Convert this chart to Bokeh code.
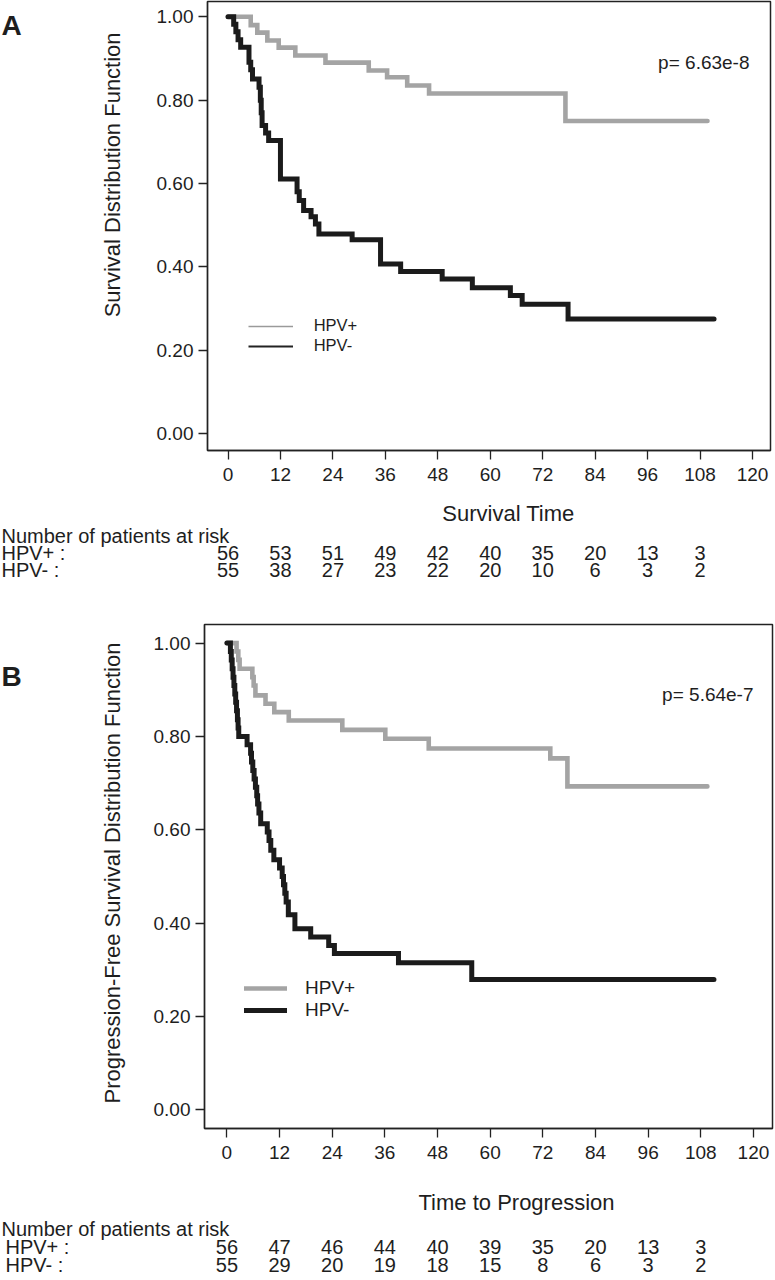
import math
from bokeh.plotting import figure
from bokeh.models import (Range1d, FixedTicker, NumeralTickFormatter, Label,
                          Legend, LegendItem)
from bokeh.layouts import column, row
from bokeh.core.properties import value
from bokeh.embed import file_html
from bokeh.resources import INLINE

FONT = "Liberation Sans"
GRAY = "#a4a4a4"
BLACK = "#1b1b1b"
TXT = "#1e1e1e"

# ---------------- data ----------------
x_ticks = [0, 12, 24, 36, 48, 60, 72, 84, 96, 108, 120]
y_ticks = [0.0, 0.2, 0.4, 0.6, 0.8, 1.0]
risk_times = [0, 12, 24, 36, 48, 60, 72, 84, 96, 108]

# Panel A: overall survival (event time, survival after it; last entry = end of follow-up)
os_pos_t = [0, 5.2, 6.7, 9.0, 11.6, 15.4, 22.3, 32.2, 36.4, 41.0, 46.0, 77.2, 109.7]
os_pos_s = [1.0, 0.980, 0.962, 0.943, 0.926, 0.907, 0.890, 0.871, 0.855, 0.835, 0.816, 0.750, 0.750]
os_neg_t = [0, 1.3, 1.8, 2.3, 2.9, 4.8, 5.2, 5.6, 7.1, 7.4, 7.6, 7.8, 8.6, 9.3, 12.0,
            15.8, 16.3, 17.3, 19.0, 20.0, 20.8, 28.4, 34.9, 39.5, 49.0, 55.9, 64.6, 67.3, 77.8, 111.2]
os_neg_s = [1.0, 0.982, 0.964, 0.945, 0.927, 0.891, 0.873, 0.851, 0.831, 0.800, 0.770, 0.739, 0.721, 0.703, 0.611,
            0.580, 0.559, 0.535, 0.520, 0.503, 0.479, 0.465, 0.407, 0.389, 0.371, 0.350, 0.331, 0.310, 0.275, 0.275]
os_risk_pos = [56, 53, 51, 49, 42, 40, 35, 20, 13, 3]
os_risk_neg = [55, 38, 27, 23, 22, 20, 10, 6, 3, 2]
os_p = "p= 6.63e-8"

# Panel B: progression-free survival
pfs_pos_t = [0, 2.2, 2.6, 2.9, 5.8, 6.1, 6.5, 8.8, 10.8, 14.1, 26.3, 36.1, 46.0, 73.7, 77.6, 109.5]
pfs_pos_s = [1.0, 0.982, 0.964, 0.945, 0.927, 0.909, 0.888, 0.870, 0.852, 0.834, 0.814, 0.795, 0.774, 0.753, 0.693, 0.693]
pfs_neg_t = [0, 0.8, 1.0, 1.2, 1.4, 1.6, 1.8, 2.0, 2.2, 2.4, 2.55, 2.7, 4.6, 5.4, 5.6, 5.9, 6.2, 6.5, 6.8, 7.0,
             7.3, 7.7, 9.2, 9.6, 10.0, 10.7, 12.0, 12.6, 12.9, 13.2, 13.5, 14.0, 15.5, 19.1, 23.2, 24.5, 39.1, 55.8, 111.0]
pfs_neg_s = [1.0, 0.982, 0.964, 0.945, 0.927, 0.909, 0.891, 0.873, 0.855, 0.836, 0.818, 0.800, 0.782, 0.764, 0.745,
             0.727, 0.709, 0.691, 0.673, 0.655, 0.636, 0.613, 0.595, 0.577, 0.556, 0.536, 0.518, 0.500, 0.482, 0.464,
             0.445, 0.418, 0.388, 0.370, 0.352, 0.335, 0.315, 0.279, 0.279]
pfs_risk_pos = [56, 47, 46, 44, 40, 39, 35, 20, 13, 3]
pfs_risk_neg = [55, 29, 20, 19, 18, 15, 8, 6, 3, 2]
pfs_p = "p= 5.64e-7"

# ---------------- layout ----------------
W = 775
LW = 150          # width of the left strip holding panel letter and y title
CURVE_W = 4.6


def plain(width, height, xr, yr):
    p = figure(width=width, height=height, output_backend="svg", toolbar_location=None,
               x_axis_type=None, y_axis_type=None, x_range=xr, y_range=yr,
               min_border_left=0, min_border_right=0, min_border_top=0, min_border_bottom=0)
    p.outline_line_color = None
    p.xgrid.visible = False
    p.ygrid.visible = False
    p.background_fill_color = "white"
    p.border_fill_color = "white"
    return p


def txt(p, xs, ys, texts, size, align="left", angle=0.0, bold=False, baseline="middle"):
    p.text(x=xs, y=ys, text=texts, text_font=value(FONT), text_font_size=value(f"{size}px"),
           text_align=align, text_baseline=baseline, angle=angle, text_color=TXT,
           text_font_style="bold" if bold else "normal")


def build_panel(top, row_h, total_h, frame, x0px, pxm, y0px, pxs,
                letter, letter_base, ytitle, ytitle_y, pval, pval_xy,
                xtitle, xtitle_xy, number_y, row_label_x, row_ys,
                risk_pos, risk_neg, pos_t, pos_s, neg_t, neg_s,
                leg_glyph, leg_rows, leg_text_x, leg_size, thin_legend):
    fl, fr, ft, fb = frame

    def dx(xr):
        return (xr - x0px) / pxm

    def dy(yr):
        return (y0px - yr) / pxs

    # --- main plot ---
    mw = W - LW
    p = figure(width=mw, height=row_h, output_backend="svg", toolbar_location=None,
               min_border_left=fl - LW, min_border_right=W - fr,
               min_border_top=max(1, ft - top), min_border_bottom=top + row_h - fb,
               x_range=Range1d(dx(fl), dx(fr)),
               y_range=Range1d(dy(fb), dy(max(top + 1, ft))))
    p.xgrid.visible = False
    p.ygrid.visible = False
    p.outline_line_color = "#222222"
    p.outline_line_width = 1.5
    p.background_fill_color = "white"
    p.border_fill_color = "white"
    for ax in (p.xaxis[0], p.yaxis[0]):
        ax.major_tick_out = 9
        ax.major_tick_in = 0
        ax.minor_tick_out = 0
        ax.minor_tick_in = 0
        ax.major_tick_line_color = "#222222"
        ax.major_tick_line_width = 1.3
        ax.axis_line_color = "#222222"
        ax.axis_line_width = 1.3
        ax.major_label_text_font = FONT
        ax.major_label_text_font_size = "19px"
        ax.major_label_text_color = TXT
    p.xaxis[0].ticker = FixedTicker(ticks=x_ticks)
    p.yaxis[0].ticker = FixedTicker(ticks=y_ticks)
    p.yaxis[0].formatter = NumeralTickFormatter(format="0.00")
    p.xaxis[0].major_label_standoff = 8
    p.yaxis[0].major_label_standoff = 5

    r_pos = p.step(pos_t, pos_s, mode="after", line_color=GRAY, line_width=CURVE_W,
                   line_cap="round", line_join="miter")
    r_neg = p.step(neg_t, neg_s, mode="after", line_color=BLACK, line_width=CURVE_W + 0.4,
                   line_cap="round", line_join="miter")
    if thin_legend:
        nan = float("nan")
        l_pos = p.line([nan], [nan], line_color="#9a9a9a", line_width=1.3)
        l_neg = p.line([nan], [nan], line_color="#222222", line_width=1.8)
    else:
        l_pos, l_neg = r_pos, r_neg
    g_l, g_r = leg_glyph
    r1, r2 = leg_rows
    pitch = r2 - r1
    gh = round(pitch)
    leg = Legend(items=[LegendItem(label="HPV+", renderers=[l_pos]),
                        LegendItem(label="HPV-", renderers=[l_neg])],
                 location=(g_l - fl, fb - (r2 + pitch / 2)),
                 orientation="vertical", glyph_width=round(g_r - g_l), glyph_height=gh,
                 label_height=gh, label_width=40, spacing=0, padding=0, margin=0,
                 label_standoff=round(leg_text_x - g_r), label_text_font=FONT,
                 label_text_font_size=f"{leg_size}px", label_text_color=TXT,
                 border_line_color=None, background_fill_alpha=0.0)
    p.add_layout(leg)
    p.add_layout(Label(x=dx(pval_xy[0]), y=dy(pval_xy[1]), text=pval, text_font=FONT,
                       text_font_size="19px", text_align="right", text_baseline="middle",
                       text_color=TXT))

    # --- left strip: panel letter + y title ---
    left = plain(LW, row_h, Range1d(0, LW), Range1d(top + row_h, top))
    txt(left, [1], [letter_base], [letter], 28, bold=True, baseline="alphabetic")
    txt(left, [112], [ytitle_y], [ytitle], 22, align="center", angle=math.pi / 2)

    # --- bottom strip: x title + numbers at risk ---
    bh = total_h - row_h
    btop = top + row_h
    tab = plain(W, bh, Range1d(dx(0), dx(W)), Range1d(btop + bh, btop))
    txt(tab, [dx(xtitle_xy[0])], [xtitle_xy[1]], [xtitle], 22, align="center")
    txt(tab, [dx(1)], [number_y], ["Number of patients at risk"], 20)
    txt(tab, [dx(row_label_x)] * 2, list(row_ys), ["HPV+ :", "HPV- :"], 20)
    txt(tab, risk_times, [row_ys[0]] * len(risk_times), [str(c) for c in risk_pos], 20,
        align="center")
    txt(tab, risk_times, [row_ys[1]] * len(risk_times), [str(c) for c in risk_neg], 20,
        align="center")
    return column(row(left, p), tab)


panel_a = build_panel(
    top=0, row_h=496, total_h=590, frame=(207, 770, 0, 450),
    x0px=227.5, pxm=4.371, y0px=433.0, pxs=416.7,
    letter="A", letter_base=26, ytitle="Survival Distribution Function", ytitle_y=191.5,
    pval=os_p, pval_xy=(749, 62), xtitle="Survival Time", xtitle_xy=(508, 513),
    number_y=535, row_label_x=1, row_ys=(552, 569),
    risk_pos=os_risk_pos, risk_neg=os_risk_neg,
    pos_t=os_pos_t, pos_s=os_pos_s, neg_t=os_neg_t, neg_s=os_neg_s,
    leg_glyph=(247.7, 292.3), leg_rows=(326.0, 345.7), leg_text_x=313.3, leg_size=16.5,
    thin_legend=True)

panel_b = build_panel(
    top=590, row_h=582, total_h=690, frame=(204, 772, 624, 1128),
    x0px=226.4, pxm=4.388, y0px=1109.3, pxs=466.7,
    letter="B", letter_base=650, ytitle="Progression-Free Survival Distribution Function", ytitle_y=877,
    pval=pfs_p, pval_xy=(753, 694), xtitle="Time to Progression", xtitle_xy=(516, 1202),
    number_y=1228, row_label_x=5, row_ys=(1246, 1264),
    risk_pos=pfs_risk_pos, risk_neg=pfs_risk_neg,
    pos_t=pfs_pos_t, pos_s=pfs_pos_s, neg_t=pfs_neg_t, neg_s=pfs_neg_s,
    leg_glyph=(244, 287), leg_rows=(988.5, 1010.4), leg_text_x=305, leg_size=19,
    thin_legend=False)

layout = column(panel_a, panel_b)
open("out.html", "w").write(file_html(layout, INLINE))
